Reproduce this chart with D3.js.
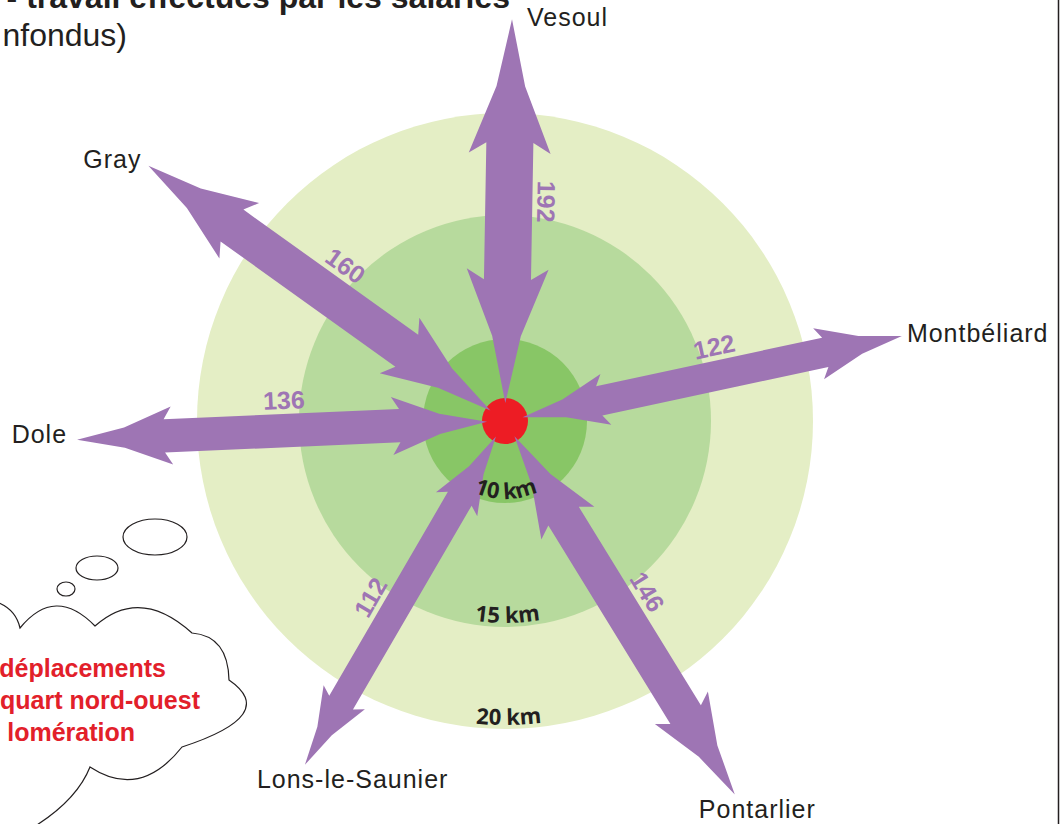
<!DOCTYPE html>
<html>
<head>
<meta charset="utf-8">
<script src="https://cdn.jsdelivr.net/npm/d3@7"></script>
<style>
  body { margin: 0; background: #fff; }
  svg { display: block; }
  .title { font-family: "Liberation Sans", Arial, sans-serif; font-size: 32px; fill: #231f20; }
  .city { font-family: "Liberation Sans", Arial, sans-serif; font-size: 25px; letter-spacing: 1px; fill: #231f20; }
  .flow { font-family: "Liberation Sans", Arial, sans-serif; font-weight: bold; font-size: 25px; fill: #9e75b4; }
  .ring-label { font-family: "Open Sans", sans-serif; font-weight: bold; font-size: 22px; fill: #231f20; }
  .bubble-text { font-family: "Liberation Sans", Arial, sans-serif; font-weight: bold; font-size: 25px; fill: #e2202a; }
</style>
</head>
<body>
<svg id="chart"></svg>
<script>
// 0. data
var cities = ["Vesoul", "Gray", "Dole", "Montbéliard", "Lons-le-Saunier", "Pontarlier"];
var flows = [192, 160, 136, 122, 112, 146];
var bearings = [1, 305.6, 267.5, 77.9, 210.2, 148.4]; // compass bearing, 0 = north
var reach = [24.6, 26.4, 25.9, 24.8, 24.4, 26.4];   // arrow length, in ring units (km)
var rings = [20, 15, 10];
var ringLabels = ["20 km", "15 km", "10 km"];
var titleLines = ["- travail effectués par les salariés", "nfondus)"];
var bubbleLines = ["déplacements", "quart nord-ouest", "lomération"];

var width = 1064, height = 824;
var cx = 505, cy = 421;

var svg = d3.select("#chart").attr("width", width).attr("height", height);

// 1. scales
var rScale = d3.scaleLinear().domain([0, 10, 15, 20]).range([0, 82, 206, 308]);
var wScale = d3.scaleLinear().domain([0, 200]).range([0, 49]);
var ringColor = d3.scaleOrdinal().domain(rings).range(["#e4eec5", "#b7da9d", "#88c666"]);

var purple = "#9e75b4";
var r0 = 18; // arrows stop on the red dot

// 2. rings
svg.append("g").selectAll("circle")
  .data(rings)
  .enter().append("circle")
  .attr("cx", cx)
  .attr("cy", cy)
  .attr("r", function(d) { return rScale(d); })
  .attr("fill", function(d) { return ringColor(d); });

svg.append("circle")
  .attr("cx", cx).attr("cy", cy).attr("r", 23)
  .attr("fill", "#ed1c24");

// 3. arrows
function arrowShape(len, w) {
  var hl = 2.85 * w, hw = 0.87 * w, nb = 0.92 * hl;
  var top = [[len, 0], [len - 0.5 * hl, 0.35 * hw], [len - hl, hw], [len - nb, w / 2],
             [nb, w / 2], [hl, hw], [0.5 * hl, 0.35 * hw], [0, 0]];
  var bottom = top.slice(1, -1).reverse().map(function(p) { return [p[0], -p[1]]; });
  return top.concat(bottom);
}

var line = d3.line().curve(d3.curveLinearClosed);

var arrows = cities.map(function(c, i) {
  var ang = bearings[i] - 90;
  var rad = ang * Math.PI / 180;
  var len = rScale(reach[i]);
  return {
    city: c, flow: flows[i], ang: ang, rad: rad, len: len, w: wScale(flows[i]),
    tipX: cx + len * Math.cos(rad), tipY: cy + len * Math.sin(rad)
  };
});

svg.append("g").selectAll("path")
  .data(arrows)
  .enter().append("path")
  .attr("transform", function(d) {
    return "translate(" + cx + "," + cy + ") rotate(" + d.ang + ") translate(" + r0 + ",0)";
  })
  .attr("d", function(d) { return line(arrowShape(d.len - r0, d.w)); })
  .attr("fill", purple);

// 4. flow values along the arrows
function readable(a) {
  while (a > 100) a -= 180;
  while (a <= -80) a += 180;
  return a;
}

svg.append("g").selectAll("text")
  .data(arrows)
  .enter().append("text")
  .attr("class", "flow")
  .attr("text-anchor", "middle")
  .attr("transform", function(d) {
    var px = cx + 220 * Math.cos(d.rad), py = cy + 220 * Math.sin(d.rad);
    return "translate(" + px + "," + py + ") rotate(" + readable(d.ang) + ")";
  })
  .attr("y", function(d) { return -(d.w / 2 + 5); })
  .text(function(d) { return d.flow; });

// 5. city names at arrow tips
var nudge = {
  "Vesoul": [15, 7, "start"],
  "Gray": [-7, 2, "end"],
  "Dole": [-10, 3, "end"],
  "Montbéliard": [5, 6, "start"],
  "Lons-le-Saunier": [-48, 23, "start"],
  "Pontarlier": [-36, 23, "start"]
};

svg.append("g").selectAll("text")
  .data(arrows)
  .enter().append("text")
  .attr("class", "city")
  .attr("x", function(d) { return d.tipX + nudge[d.city][0]; })
  .attr("y", function(d) { return d.tipY + nudge[d.city][1]; })
  .attr("text-anchor", function(d) { return nudge[d.city][2]; })
  .text(function(d) { return d.city; });

// 6. ring labels bent along the bottom of each ring
var defs = svg.append("defs");
rings.forEach(function(k, i) {
  var r = rScale(k) - 4;
  defs.append("path")
    .attr("id", "ring-arc-" + i)
    .attr("d", "M" + (cx - r) + "," + cy + " A" + r + "," + r + " 0 0 0 " + (cx + r) + "," + cy);
  svg.append("text")
    .attr("class", "ring-label")
    .append("textPath")
    .attr("href", "#ring-arc-" + i)
    .attr("startOffset", "50.4%")
    .attr("text-anchor", "middle")
    .text(ringLabels[i]);
});

// 7. title, cut by the frame
svg.append("text").attr("class", "title")
  .attr("x", 510).attr("y", 8)
  .attr("text-anchor", "end")
  .style("font-weight", "bold")
  .text(titleLines[0]);
svg.append("text").attr("class", "title")
  .attr("x", 127).attr("y", 46)
  .attr("text-anchor", "end")
  .text(titleLines[1]);

// 8. thought bubble
var bubble = svg.append("g").attr("fill", "#fff").attr("stroke", "#231f20").attr("stroke-width", 1.2);
[[155, 537, 32, 18], [97, 568, 21, 12], [66, 589, 9, 7]].forEach(function(e) {
  bubble.append("ellipse").attr("cx", e[0]).attr("cy", e[1]).attr("rx", e[2]).attr("ry", e[3]);
});

var cloud = d3.path();
cloud.moveTo(-10, 600);
cloud.quadraticCurveTo(15, 606, 20, 628);
cloud.quadraticCurveTo(55, 585, 95, 626);
cloud.quadraticCurveTo(140, 586, 192, 633);
cloud.quadraticCurveTo(228, 636, 229, 680);
cloud.quadraticCurveTo(280, 715, 182, 747);
cloud.quadraticCurveTo(140, 800, 90, 767);
cloud.quadraticCurveTo(75, 805, 20, 835);
cloud.lineTo(-10, 835);
cloud.closePath();
bubble.append("path").attr("d", cloud.toString());

svg.append("g").selectAll("text")
  .data(bubbleLines)
  .enter().append("text")
  .attr("class", "bubble-text")
  .attr("text-anchor", "end")
  .attr("x", function(d, i) { return [166, 200, 135][i]; })
  .attr("y", function(d, i) { return 677 + i * 32; })
  .text(function(d) { return d; });

// 9. frame edge on the right
svg.append("line")
  .attr("x1", 1058.5).attr("x2", 1058.5)
  .attr("y1", 0).attr("y2", height)
  .attr("stroke", "#231f20").attr("stroke-width", 1.5);
</script>
</body>
</html>
